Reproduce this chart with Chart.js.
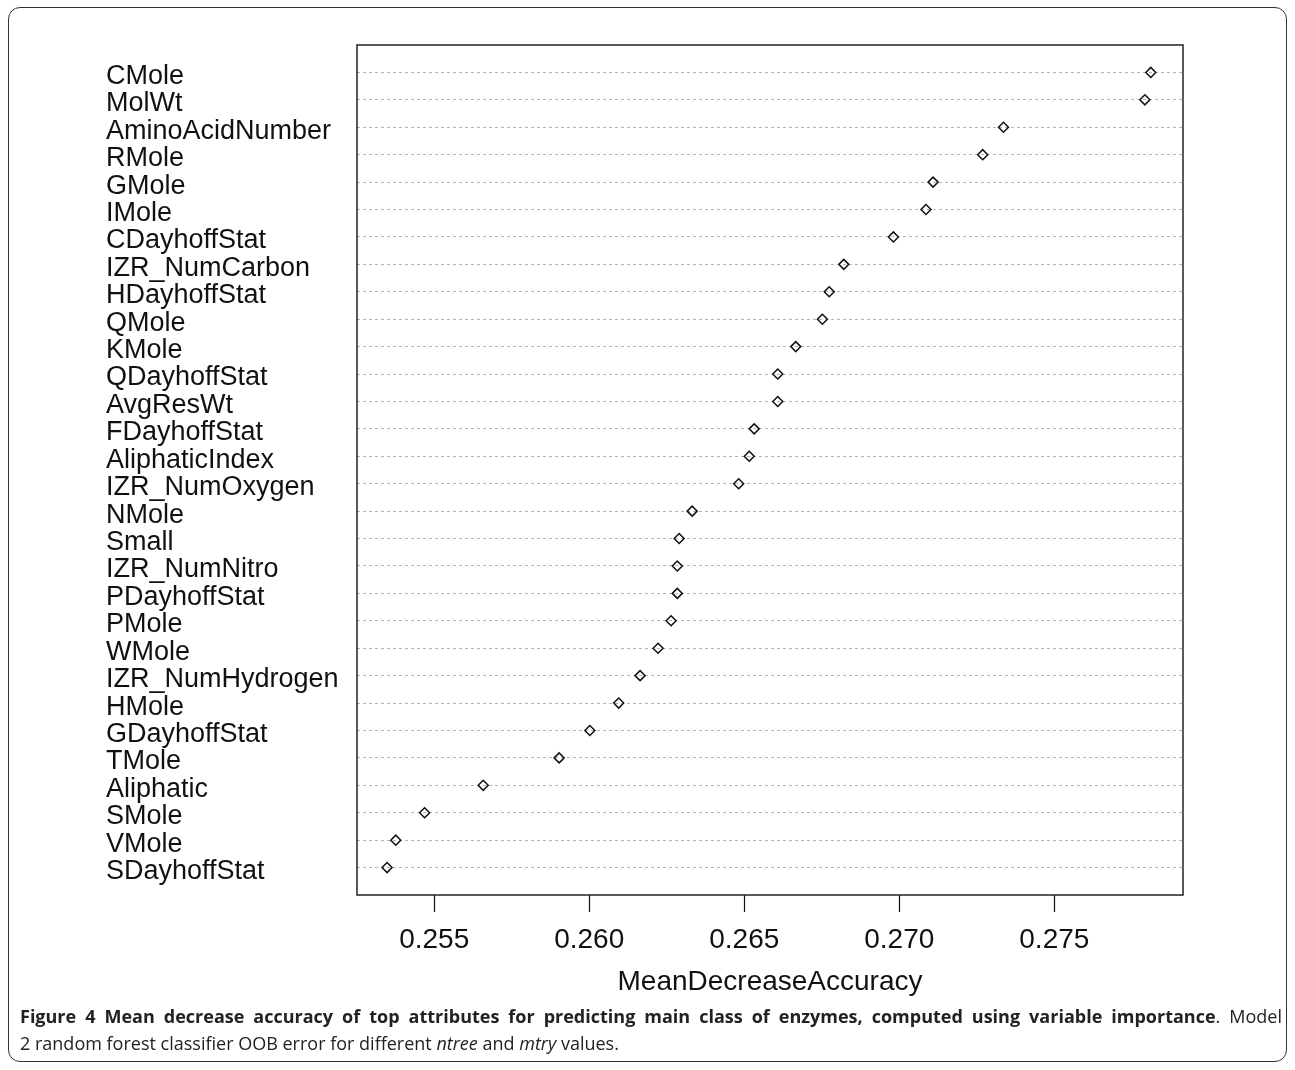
<!DOCTYPE html>
<html>
<head>
<meta charset="utf-8">
<script src="https://cdn.jsdelivr.net/npm/chart.js@4.4.1/dist/chart.umd.min.js"></script>
<style>
  html, body { margin: 0; padding: 0; background: #fff; }
  #wrap { position: relative; width: 1295px; height: 1070px; }
  #frame {
    position: absolute; left: 8px; top: 7px; width: 1277px; height: 1053px;
    border: 1.5px solid #333; border-radius: 12px;
  }
  #chart { position: absolute; left: 0; top: 0; }
  .cap {
    position: absolute; left: 20px; width: 1262px;
    font-family: "Open Sans", sans-serif; font-size: 18px; line-height: 25px; color: #222;
    white-space: nowrap;
  }
  #cap1 { top: 1004px; text-align: justify; text-align-last: justify; white-space: normal; }
  #cap2 { top: 1031px; }
</style>
</head>
<body>
<div id="wrap">
  <div id="frame"></div>
  <canvas id="chart" width="1295" height="1070"></canvas>
  <div class="cap" id="cap1"><b>Figure 4 Mean decrease accuracy of top attributes for predicting main class of enzymes, computed using variable importance</b>. Model</div>
  <div class="cap" id="cap2">2 random forest classifier OOB error for different <i>ntree</i> and <i>mtry</i> values.</div>
</div>
<script>
// attributes, top to bottom
const attributes = [
  "CMole", "MolWt", "AminoAcidNumber", "RMole", "GMole", "IMole",
  "CDayhoffStat", "IZR_NumCarbon", "HDayhoffStat", "QMole", "KMole",
  "QDayhoffStat", "AvgResWt", "FDayhoffStat", "AliphaticIndex",
  "IZR_NumOxygen", "NMole", "Small", "IZR_NumNitro", "PDayhoffStat",
  "PMole", "WMole", "IZR_NumHydrogen", "HMole", "GDayhoffStat", "TMole",
  "Aliphatic", "SMole", "VMole", "SDayhoffStat"
];

const meanDecreaseAccuracy = [
  0.27811, 0.27792, 0.27336, 0.27269, 0.27109, 0.27086,
  0.26981, 0.26821, 0.26774, 0.26752, 0.26666,
  0.26608, 0.26608, 0.26532, 0.26516,
  0.26482, 0.26332, 0.26290, 0.26284, 0.26284,
  0.26264, 0.26222, 0.26164, 0.26095, 0.26002, 0.25903,
  0.25658, 0.25469, 0.25376, 0.25348
];

const xTicks = [0.255, 0.260, 0.265, 0.270, 0.275];

Chart.defaults.font.family = "'Liberation Sans', Arial, sans-serif";
Chart.defaults.color = "#111";

// box round the plot region
const plotBox = {
  id: "plotBox",
  afterDatasetsDraw(chart) {
    const { ctx, chartArea: a } = chart;
    ctx.save();
    ctx.strokeStyle = "#222";
    ctx.lineWidth = 1.5;
    ctx.strokeRect(a.left, a.top, a.right - a.left, a.bottom - a.top);
    ctx.restore();
  }
};

new Chart(document.getElementById("chart"), {
  type: "scatter",
  data: {
    datasets: [{
      data: meanDecreaseAccuracy.map((v, i) => ({ x: v, y: i + 1 })),
      pointStyle: "rectRot",
      pointRadius: 5,
      pointHoverRadius: 5,
      borderColor: "#111",
      backgroundColor: "rgba(255,255,255,0)",
      borderWidth: 1.5
    }]
  },
  options: {
    responsive: false,
    devicePixelRatio: 1,
    animation: false,
    layout: { padding: { left: 106, right: 112, top: 45, bottom: 0 } },
    plugins: { legend: { display: false }, tooltip: { enabled: false } },
    scales: {
      x: {
        type: "linear",
        min: 0.25251,
        max: 0.27915,
        afterBuildTicks: (s) => { s.ticks = xTicks.map((v) => ({ value: v })); },
        afterFit: (s) => { s.height = 175; },
        ticks: {
          font: { size: 28 },
          padding: 11,
          callback: (v) => v.toFixed(3)
        },
        grid: { drawOnChartArea: false, tickLength: 17, tickColor: "#111", tickWidth: 1.2 },
        border: { display: false },
        title: {
          display: true,
          text: "MeanDecreaseAccuracy",
          font: { size: 28 },
          padding: { top: 0, bottom: 71 }
        }
      },
      y: {
        type: "linear",
        reverse: true,
        min: 0,
        max: attributes.length + 1,
        afterBuildTicks: (s) => { s.ticks = attributes.map((_, i) => ({ value: i + 1 })); },
        afterFit: (s) => { s.width = 251; },
        ticks: {
          autoSkip: false,
          crossAlign: "far",
          labelOffset: 4,
          font: { size: 27 },
          callback: (v) => attributes[v - 1] || ""
        },
        grid: { drawTicks: false, color: "#b4b4b4", lineWidth: 1 },
        border: { display: false, dash: [3, 3] }
      }
    }
  },
  plugins: [plotBox]
});
</script>
</body>
</html>
